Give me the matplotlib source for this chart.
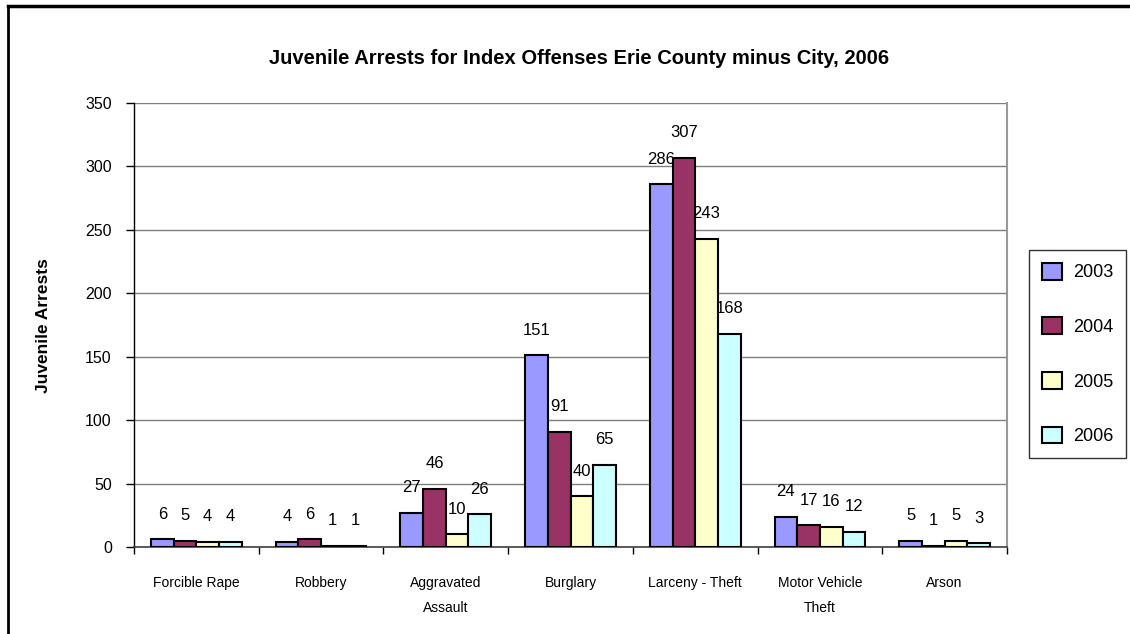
import matplotlib.pyplot as plt
import numpy as np
from matplotlib.lines import Line2D

plt.rcParams['font.family'] = ['Liberation Sans', 'DejaVu Sans']

categories = ['Forcible Rape', 'Robbery', 'Aggravated\nAssault', 'Burglary',
              'Larceny - Theft', 'Motor Vehicle\nTheft', 'Arson']
years = ['2003', '2004', '2005', '2006']
arrests_2003 = [6, 4, 27, 151, 286, 24, 5]
arrests_2004 = [5, 6, 46, 91, 307, 17, 1]
arrests_2005 = [4, 1, 10, 40, 243, 16, 5]
arrests_2006 = [4, 1, 26, 65, 168, 12, 3]
colors = ['#9999FF', '#993366', '#FFFFCC', '#CCFFFF']

series = [arrests_2003, arrests_2004, arrests_2005, arrests_2006]

fig = plt.figure(figsize=(11.3, 6.34), dpi=100)
ax = fig.add_axes([134 / 1130, 1 - 547 / 634, 873 / 1130, 444 / 634])

x = np.arange(len(categories)) + 0.5
w = 1 / 5.5  # 150% gap width
handles = []
for i, (vals, yr, col) in enumerate(zip(series, years, colors)):
    pos = x + (i - 1.5) * w
    bars = ax.bar(pos, vals, width=w, color=col, edgecolor='black',
                  linewidth=1.5, label=yr, zorder=3)
    handles.append(bars)
    for p, v in zip(pos, vals):
        ax.annotate(str(v), (p, v), xytext=(0, 18), textcoords='offset points',
                    ha='center', va='center', fontsize=12, zorder=4)

ax.set_xlim(0, len(categories))
ax.set_ylim(0, 350)
ax.set_yticks(np.arange(0, 351, 50))
ax.tick_params(axis='y', direction='out', length=6, width=1, labelsize=11.5, pad=10)

ax.set_xticks(x)
ax.set_xticklabels(categories, fontsize=10, linespacing=2.0, va='top')
ax.tick_params(axis='x', which='major', length=0, pad=21)
ax.set_xticks(np.arange(0, len(categories) + 1), minor=True)
ax.tick_params(axis='x', which='minor', direction='out', length=5, width=1)

ax.yaxis.grid(True, color='#7f7f7f', linewidth=1, zorder=0)
ax.spines['top'].set_visible(False)
ax.spines['right'].set_color('#999999')
ax.spines['right'].set_linewidth(1.5)
ax.spines['left'].set_linewidth(1)
ax.spines['bottom'].set_color('#404040')
ax.spines['bottom'].set_linewidth(1.2)

fig.text(579 / 1130, 1 - 59 / 634,
         'Juvenile Arrests for Index Offenses Erie County minus City, 2006',
         ha='center', va='center', fontsize=14.5, fontweight='bold')
fig.text(44 / 1130, 1 - 326 / 634, 'Juvenile Arrests', rotation=90,
         ha='center', va='center', fontsize=12.5, fontweight='bold')

leg = fig.legend(handles=handles, labels=years, loc='center left',
                 bbox_to_anchor=(1029 / 1130, 1 - 354 / 634),
                 bbox_transform=fig.transFigure, borderaxespad=0,
                 fontsize=13, frameon=True, fancybox=False, shadow=False,
                 handlelength=1.15, handleheight=1.05, handletextpad=0.6,
                 labelspacing=2.0, borderpad=0.7)
leg.get_frame().set_edgecolor('black')
leg.get_frame().set_linewidth(1)

# outer chart border (left and top edges)
fig.add_artist(Line2D([8 / 1130, 8 / 1130], [0, 1 - 6 / 634],
                      color='black', linewidth=2))
fig.add_artist(Line2D([8 / 1130, 1], [1 - 6 / 634, 1 - 6 / 634],
                      color='black', linewidth=2.5))

fig.savefig('out.png', dpi=100)
